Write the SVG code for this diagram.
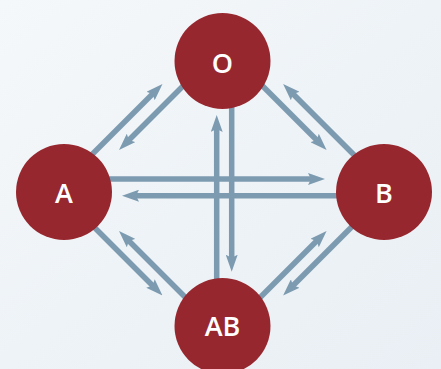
<svg xmlns="http://www.w3.org/2000/svg" width="441" height="369" viewBox="0 0 441 369">
<defs>
<linearGradient id="bg" x1="0" y1="0" x2="1" y2="1">
<stop offset="0" stop-color="#f5f8fa"/>
<stop offset="0.5" stop-color="#eef3f7"/>
<stop offset="1" stop-color="#e9eff4"/>
</linearGradient>
<marker id="ah" markerUnits="userSpaceOnUse" orient="auto" markerWidth="17" markerHeight="12" refX="5" refY="6" viewBox="0 0 17 12">
<path d="M0,0 L17,6 L0,12 L3,6 Z" fill="#7d9bb0"/>
</marker>
</defs>
<style>
.c{stroke:#7d9bb0;stroke-width:5.5;fill:none;marker-end:url(#ah)}
.n{fill:#97272e}
.t{font-family:"Open Sans","Noto Sans","DejaVu Sans",sans-serif;font-weight:600;font-size:27px;fill:#ffffff;text-anchor:middle}
</style>
<rect width="441" height="369" fill="url(#bg)"/>
<g id="connectors">
<line class="c" x1="88" y1="158.5" x2="154" y2="92.5"/>
<line class="c" x1="190" y1="79" x2="127.5" y2="141.5"/>
<line class="c" x1="357.6" y1="158.5" x2="291.6" y2="92.5"/>
<line class="c" x1="255.6" y1="79" x2="318.1" y2="141.5"/>
<line class="c" x1="88" y1="221" x2="154" y2="287"/>
<line class="c" x1="190" y1="302" x2="127.5" y2="239.5"/>
<line class="c" x1="255.6" y1="302" x2="318.1" y2="239.5"/>
<line class="c" x1="357.6" y1="221" x2="291.6" y2="287"/>
<line class="c" x1="100" y1="179" x2="313" y2="179"/>
<line class="c" x1="345" y1="195.7" x2="134" y2="195.7"/>
<line class="c" x1="216.7" y1="290" x2="216.7" y2="127"/>
<line class="c" x1="231.7" y1="100" x2="231.7" y2="259.7"/>
</g>
<g id="node-O"><circle class="n" cx="222.5" cy="61" r="48"/><text class="t" x="222.5" y="72.5">O</text></g>
<g id="node-A"><circle class="n" cx="64" cy="192" r="48"/><text class="t" x="64" y="203">A</text></g>
<g id="node-B"><circle class="n" cx="384" cy="192" r="48"/><text class="t" x="384" y="203">B</text></g>
<g id="node-AB"><circle class="n" cx="222.5" cy="326" r="48"/><text class="t" x="222.5" y="336">AB</text></g>
</svg>
